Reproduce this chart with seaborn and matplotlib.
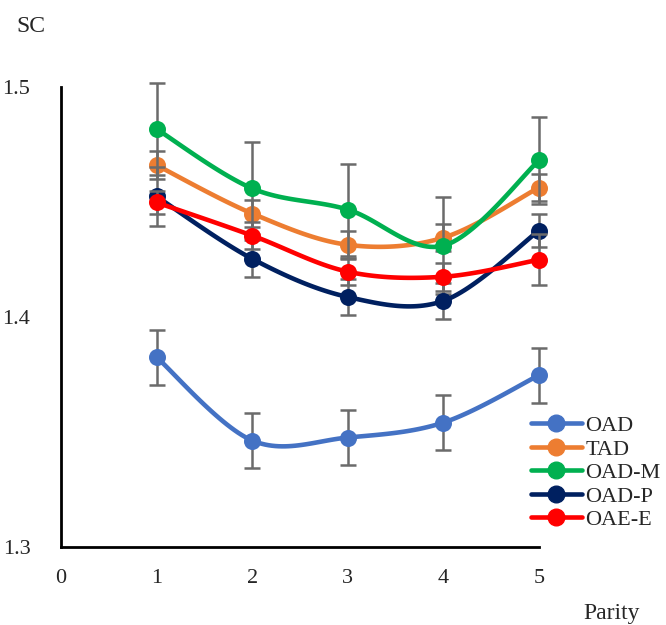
import numpy as np
import pandas as pd
import matplotlib
matplotlib.use("Agg")
import matplotlib.pyplot as plt
from matplotlib.lines import Line2D
import seaborn as sns

parity = [1, 2, 3, 4, 5]
series = ["OAD", "TAD", "OAD-M", "OAD-P", "OAE-E"]
oad = [1.3825, 1.3463, 1.3476, 1.3541, 1.3747]
tad = [1.4660, 1.4450, 1.4314, 1.4345, 1.4563]
oad_m = [1.4817, 1.4559, 1.4467, 1.4310, 1.4681]
oad_p = [1.4524, 1.4253, 1.4087, 1.4070, 1.4376]
oae_e = [1.4498, 1.4354, 1.4197, 1.4175, 1.4249]
err_oad = [0.012, 0.012, 0.012, 0.012, 0.012]
err_tad = [0.006, 0.006, 0.006, 0.006, 0.006]
err_oad_m = [0.020, 0.020, 0.020, 0.021, 0.019]
err_oad_p = [0.013, 0.008, 0.008, 0.008, 0.007]
err_oae_e = [0.005, 0.006, 0.006, 0.006, 0.011]
colors = ["#4472C4", "#ED7D31", "#00B050", "#002060", "#FF0000"]
xticks = [0, 1, 2, 3, 4, 5]
yticks = [1.3, 1.4, 1.5]

values = [oad, tad, oad_m, oad_p, oae_e]
errs = [err_oad, err_tad, err_oad_m, err_oad_p, err_oae_e]

sns.set_style("white")
plt.rcParams["font.family"] = ["Liberation Serif", "DejaVu Serif"]

fig = plt.figure(figsize=(6.66, 6.25), dpi=100)
ax = fig.add_axes([0.0916, 0.1248, 0.7177, 0.736])


def smooth(xs, ys, n=30):
    xs = np.asarray(xs, float)
    ys = np.asarray(ys, float)
    px = np.concatenate([[xs[0]], xs, [xs[-1]]])
    py = np.concatenate([[ys[0]], ys, [ys[-1]]])
    ox, oy = [], []
    t = np.linspace(0, 1, n)
    for i in range(1, len(px) - 2):
        p0x, p1x, p2x, p3x = px[i - 1], px[i], px[i + 1], px[i + 2]
        p0y, p1y, p2y, p3y = py[i - 1], py[i], py[i + 1], py[i + 2]
        c1x = p1x + (p2x - p0x) / 6
        c1y = p1y + (p2y - p0y) / 6
        c2x = p2x - (p3x - p1x) / 6
        c2y = p2y - (p3y - p1y) / 6
        bx = (1 - t) ** 3 * p1x + 3 * (1 - t) ** 2 * t * c1x + 3 * (1 - t) * t ** 2 * c2x + t ** 3 * p2x
        by = (1 - t) ** 3 * p1y + 3 * (1 - t) ** 2 * t * c1y + 3 * (1 - t) * t ** 2 * c2y + t ** 3 * p2y
        ox.extend(bx)
        oy.extend(by)
    return ox, oy


for k, (name, vals, er, col) in enumerate(zip(series, values, errs, colors)):
    eb = ax.errorbar(parity, vals, yerr=er, fmt="none", ecolor="#6B6B6B",
                     elinewidth=1.8, capsize=6, capthick=1.8, zorder=2 + k * 3)
    for art in eb.lines[1]:
        art.set_clip_on(False)
    for art in eb.lines[2]:
        art.set_clip_on(False)
    sx, sy = smooth(parity, vals)
    df = pd.DataFrame({"x": sx, "y": sy})
    sns.lineplot(data=df, x="x", y="y", sort=False, estimator=None, ax=ax,
                 color=col, linewidth=3.3, zorder=3 + k * 3, clip_on=False)
    sns.scatterplot(x=parity, y=vals, ax=ax, color=col, s=150,
                    edgecolor=col, linewidth=0, zorder=4 + k * 3, clip_on=False)

ax.set_xlim(0, 5)
ax.set_ylim(1.3, 1.5)
ax.set_xticks(xticks)
ax.set_yticks(yticks)
ax.set_xticklabels([str(v) for v in xticks])
ax.set_yticklabels([f"{v:.1f}" for v in yticks])
ax.tick_params(axis="both", length=0, labelsize=16)
ax.tick_params(axis="y", pad=22)
ax.tick_params(axis="x", pad=16)
ax.set_xlabel("")
ax.set_ylabel("")
for s in ["top", "right"]:
    ax.spines[s].set_visible(False)
for s in ["left", "bottom"]:
    ax.spines[s].set_color("black")
    ax.spines[s].set_linewidth(2)
ax.grid(False)

fig.text(0.046, 0.958, "SC", fontsize=17, ha="center", va="center")
fig.text(0.918, 0.019, "Parity", fontsize=17, ha="center", va="center")

handles = [Line2D([0], [0], color=c, lw=3.3, marker="o", markersize=12) for c in colors]
fig.legend(handles, series, loc="upper left", bbox_to_anchor=(0.797, 0.335),
           frameon=False, fontsize=16, handlelength=2.3, handletextpad=0.15,
           labelspacing=0.13, borderpad=0, borderaxespad=0)

fig.savefig("out.png", dpi=100)
